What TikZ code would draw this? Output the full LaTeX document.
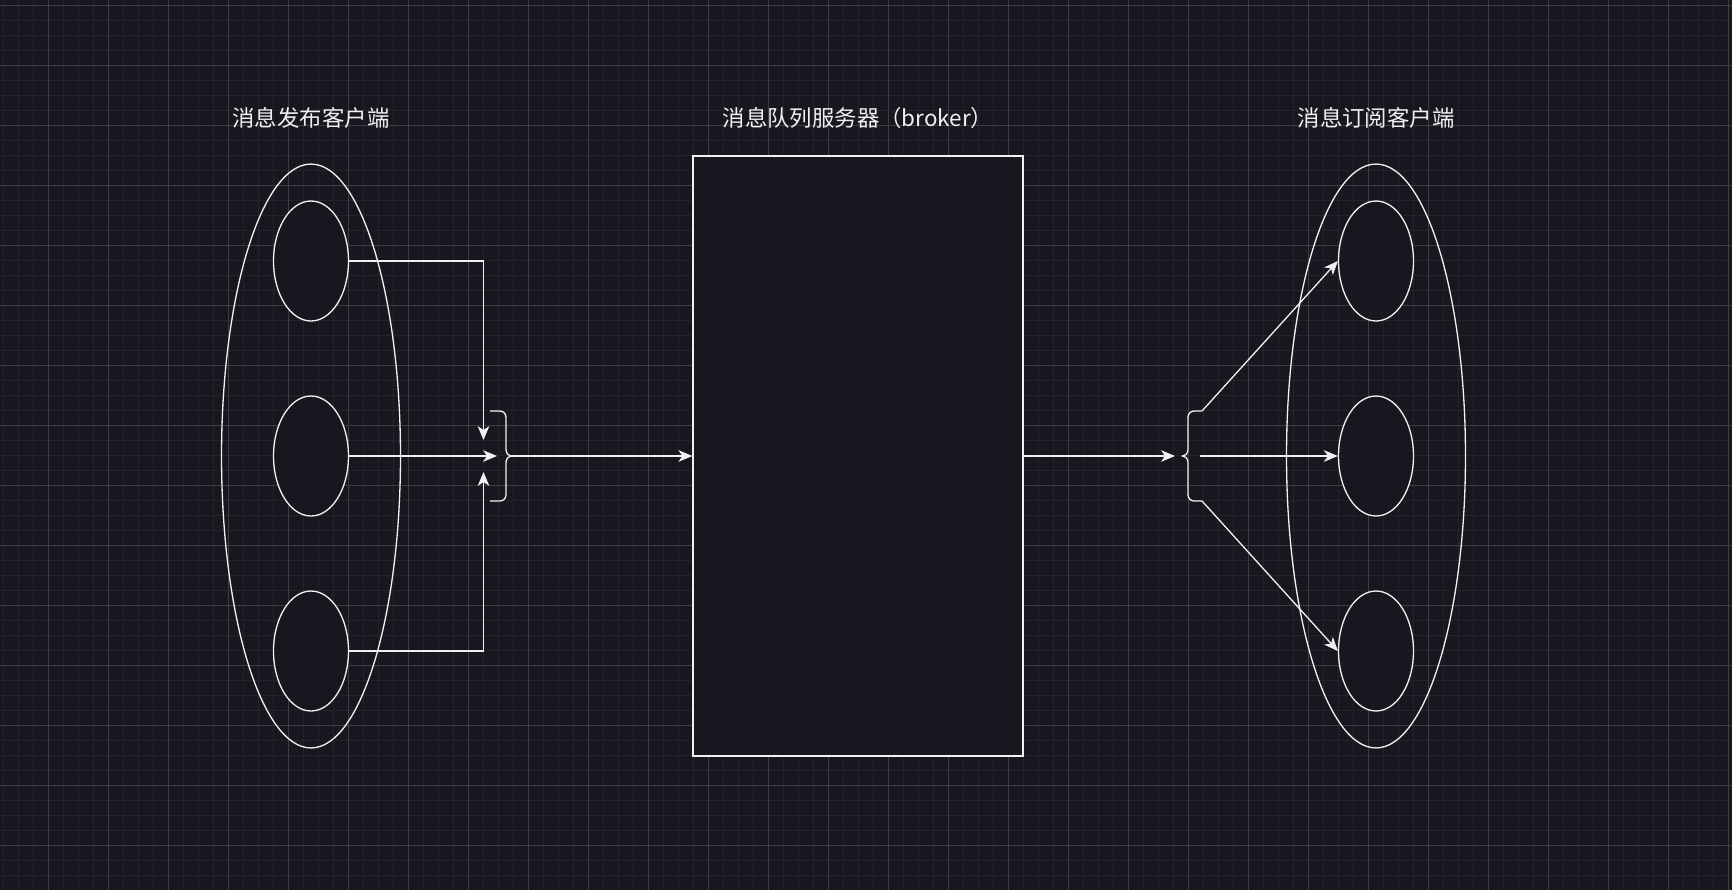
\documentclass[tikz,border=0pt]{standalone}
\usepackage{fontspec}
\setmainfont{Noto Sans CJK SC}
\usetikzlibrary{arrows.meta, positioning, shapes.geometric}
\definecolor{cbg}{HTML}{18161E}
\definecolor{cminor}{HTML}{25232A}
\definecolor{cmajor}{HTML}{3D3C43}
\definecolor{cline}{HTML}{F0F0F0}
\tikzset{
  every picture/.style={line width=0.75pt},
  gridminor/.style={draw=cminor, line width=0.5pt},
  gridmajor/.style={draw=cmajor, line width=0.5pt},
  group/.style={ellipse, draw=cline, inner sep=0pt, minimum width=3.58cm, minimum height=11.68cm},
  client/.style={ellipse, draw=cline, fill=cbg, inner sep=0pt, minimum width=1.5cm, minimum height=2.4cm},
  server/.style={rectangle, draw=cline, fill=cbg, inner sep=0pt, minimum width=6.6cm, minimum height=12cm},
  arrow/.style={-{Stealth[length=7.9pt, width=6.6pt, inset=2.2pt]}, draw=cline},
  brace/.style={draw=cline, rounded corners=3.5pt},
  title/.style={font=\fontsize{12.75pt}{15pt}\selectfont, text=cline, inner sep=0pt},
}
\begin{document}
\begin{tikzpicture}[x=0.02cm, y=-0.02cm]
  \useasboundingbox (0,0) rectangle (1732,890);
  % canvas with draw.io style grid
  \fill[cbg] (0,0) rectangle (1732,890);
  \foreach \gx in {3,18,...,1731} \draw[gridminor] (\gx,0) -- (\gx,890);
  \foreach \gy in {5,20,...,889} \draw[gridminor] (0,\gy) -- (1732,\gy);
  \foreach \gx in {48,108,...,1731} \draw[gridmajor] (\gx,0) -- (\gx,890);
  \foreach \gy in {5,65,...,889} \draw[gridmajor] (0,\gy) -- (1732,\gy);

  % publishers, broker, subscribers
  \node[group] (pubs) at (311,456) {};
  \node[group] (subs) at (1376,456) {};
  \foreach \i/\y in {1/261,2/456,3/651} {
    \node[client] (pub\i) at (311,\y) {};
    \node[client] (sub\i) at (1376,\y) {};
  }
  \node[server] (broker) at (858,456) {};

  \node[title] (pubtitle) at (311,118) {消息发布客户端};
  \node[title] (brokertitle) at (858,118) {消息队列服务器（broker）};
  \node[title] (subtitle) at (1376,118) {消息订阅客户端};

  % joints at the braces
  \coordinate (join1) at (483.5,440);
  \coordinate (join2) at (497,456);
  \coordinate (join3) at (483.5,472);
  \coordinate (lbrace) at (512,456);
  \coordinate (rbrace) at (1175,456);
  \coordinate (rmid) at (1200,456);
  \coordinate (rtop) at (1202,411);
  \coordinate (rbot) at (1202,501);

  \foreach \y in {411,501} {
    \draw[brace] (490,\y) -| (506,456) -- (lbrace);
    \draw[brace] (1202,\y) -| (1188,456) -- (1182,456);
  }

  \draw[arrow] (pub1.east) -| (join1);
  \draw[arrow] (pub2.east) -- (join2);
  \draw[arrow] (pub3.east) -| (join3);
  \draw[arrow] (lbrace) -- (broker.west);
  \draw[arrow] (broker.east) -- (rbrace);
  \draw[arrow] (rmid) -- (sub2.west);
  \draw[arrow] (rtop) -- (sub1.west);
  \draw[arrow] (rbot) -- (sub3.west);
\end{tikzpicture}
\end{document}
